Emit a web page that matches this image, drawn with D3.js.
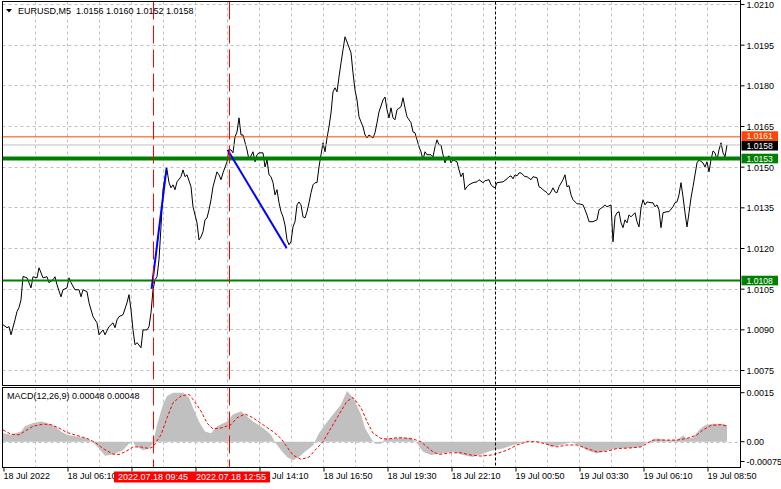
<!DOCTYPE html>
<html><head><meta charset="utf-8">
<script src="https://cdn.jsdelivr.net/npm/d3@7"></script>
<style>
html,body{margin:0;padding:0;background:#fff;}
svg{display:block;font-family:"Liberation Sans",Arial,sans-serif;}
</style></head><body>
<svg id="c" width="781" height="489"></svg>
<script>
// ---------- DATA ----------
const headerText = "EURUSD,M5  1.0156 1.0160 1.0152 1.0158";
const macdHeader = "MACD(12,26,9) 0.00048 0.00048";
// [bar index (5-min bars from 18 Jul 03:30), close]
const closeSeries = [
[0,1.00917],[2,1.00906],[3,1.00910],[4,1.00880],[6,1.00935],[7,1.00966],[8,1.00980],[9,1.01009],[10,1.01095],[12,1.01090],
[14,1.01053],[15,1.01094],[17,1.01090],[18,1.01127],[20,1.01090],[22,1.01094],[23,1.01072],[25,1.01083],[26,1.01094],[27,1.01064],
[29,1.01020],[30,1.01046],[32,1.01053],[33,1.01090],[34,1.01072],[36,1.01046],[38,1.01046],[39,1.01020],[40,1.01046],[42,1.01039],
[43,1.00998],[45,1.00947],[47,1.00924],[48,1.00880],[50,1.00898],[51,1.00880],[53,1.00910],[55,1.00924],[56,1.00906],[57,1.00935],
[58,1.00947],[60,1.00954],[62,1.00998],[63,1.01028],[64,1.00972],[65,1.00898],[66,1.00843],[67,1.00851],[69,1.00832],[70,1.00898],
[72,1.00898],[73,1.00910],[74,1.00961],[75,1.01046],[76,1.01083],[77,1.01094],[78,1.01157],[79,1.01278],[80,1.01415],[81,1.01460],
[82,1.01488],[83,1.01441],[84,1.01422],[85,1.01433],[86,1.01415],[87,1.01444],[89,1.01463],[90,1.01488],[91,1.01463],[92,1.01470],
[94,1.01426],[95,1.01352],[97,1.01293],[98,1.01230],[99,1.01241],[100,1.01260],[101,1.01304],[102,1.01311],[103,1.01341],[104,1.01378],
[105,1.01426],[107,1.01481],[108,1.01470],[109,1.01452],[110,1.01477],[112,1.01518],[113,1.01562],[114,1.01562],[115,1.01551],[116,1.01610],
[117,1.01628],[118,1.01680],[119,1.01617],[120,1.01617],[122,1.01562],[123,1.01525],[125,1.01555],[126,1.01518],[127,1.01544],[128,1.01551],
[130,1.01551],[131,1.01499],[132,1.01525],[133,1.01470],[134,1.01463],[135,1.01441],[136,1.01396],[137,1.01415],[138,1.01367],[139,1.01334],
[140,1.01315],[141,1.01285],[142,1.01230],[143,1.01212],[144,1.01223],[145,1.01278],[146,1.01297],[147,1.01359],[148,1.01370],[149,1.01359],
[150,1.01315],[151,1.01311],[152,1.01334],[153,1.01367],[154,1.01404],[155,1.01433],[156,1.01441],[157,1.01441],[158,1.01499],[159,1.01544],
[160,1.01588],[161,1.01555],[162,1.01606],[163,1.01647],[164,1.01698],[165,1.01776],[166,1.01791],[167,1.01776],[168,1.01831],[169,1.01883],
[170,1.01931],[171,1.01979],[172,1.01960],[174,1.01920],[175,1.01846],[176,1.01783],[177,1.01746],[178,1.01684],[179,1.01665],[180,1.01647],
[181,1.01617],[182,1.01606],[183,1.01617],[185,1.01606],[186,1.01625],[187,1.01662],[188,1.01702],[190,1.01746],[191,1.01757],[192,1.01710],
[193,1.01680],[194,1.01717],[195,1.01680],[196,1.01673],[197,1.01710],[199,1.01721],[200,1.01754],[201,1.01717],[202,1.01684],[204,1.01662],
[205,1.01628],[206,1.01625],[207,1.01599],[208,1.01573],[209,1.01555],[210,1.01525],[211,1.01555],[212,1.01544],[214,1.01544],[215,1.01536],
[216,1.01573],[217,1.01599],[218,1.01580],[219,1.01580],[220,1.01544],[221,1.01514],[222,1.01533],[223,1.01540],[224,1.01514],[225,1.01525],
[227,1.01518],[228,1.01488],[229,1.01463],[230,1.01477],[231,1.01415],[232,1.01426],[233,1.01433],[235,1.01441],[237,1.01444],[238,1.01452],
[240,1.01441],[241,1.01448],[243,1.01452],[244,1.01433],[245,1.01426],[246,1.01422],[247,1.01441],[250,1.01444],[252,1.01455],[253,1.01463],
[254,1.01466],[255,1.01455],[256,1.01470],[257,1.01466],[258,1.01477],[259,1.01477],[261,1.01463],[262,1.01463],[264,1.01452],[265,1.01463],
[267,1.01459],[268,1.01426],[269,1.01422],[270,1.01415],[272,1.01404],[273,1.01396],[274,1.01407],[275,1.01422],[276,1.01407],[277,1.01404],
[278,1.01426],[280,1.01452],[281,1.01470],[282,1.01426],[283,1.01430],[284,1.01396],[285,1.01378],[287,1.01363],[288,1.01363],[290,1.01359],
[291,1.01341],[292,1.01322],[293,1.01297],[295,1.01297],[297,1.01304],[298,1.01341],[300,1.01352],[301,1.01359],[302,1.01352],[304,1.01359],
[305,1.01223],[306,1.01315],[307,1.01330],[308,1.01334],[309,1.01293],[310,1.01275],[311,1.01304],[312,1.01293],[313,1.01322],[314,1.01315],
[316,1.01330],[317,1.01297],[318,1.01278],[319,1.01348],[320,1.01378],[321,1.01359],[322,1.01370],[324,1.01367],[325,1.01367],[326,1.01352],
[327,1.01359],[328,1.01341],[329,1.01275],[330,1.01330],[332,1.01334],[333,1.01334],[335,1.01352],[336,1.01367],[337,1.01370],[338,1.01396],
[339,1.01441],[340,1.01389],[341,1.01330],[342,1.01278],[343,1.01330],[344,1.01385],[345,1.01426],[346,1.01470],[347,1.01514],[348,1.01525],
[350,1.01514],[351,1.01499],[352,1.01518],[353,1.01481],[354,1.01525],[355,1.01558],[356,1.01551],[357,1.01525],[358,1.01562],[359,1.01588],
[360,1.01551],[361,1.01536],[362,1.01580]
];
const histSeries = [
[0,0.00026],[4,0.00021],[9,0.00031],[11,0.00047],[15,0.00057],[19,0.00062],[22,0.00057],[26,0.00047],[29,0.00031],[32,0.00021],
[37,0.00016],[42,0.00010],[45,-0.00002],[48,-0.00021],[51,-0.00043],[55,-0.00039],[60,-0.00026],[63,-0.00006],[65,0.00000],[66,-0.00012],
[70,-0.00026],[73,-0.00021],[75,-0.00005],[77,0.00052],[80,0.00114],[82,0.00140],[85,0.00150],[90,0.00150],[93,0.00135],[95,0.00104],
[98,0.00062],[101,0.00031],[104,0.00026],[107,0.00047],[112,0.00062],[115,0.00083],[119,0.00093],[122,0.00078],[125,0.00062],[130,0.00042],
[134,0.00021],[136,-0.00002],[139,-0.00026],[142,-0.00047],[145,-0.00057],[148,-0.00047],[151,-0.00031],[155,-0.00012],[158,0.00026],[161,0.00052],
[165,0.00083],[169,0.00114],[172,0.00155],[175,0.00135],[179,0.00083],[181,0.00042],[184,0.00010],[186,-0.00006],[189,-0.00006],[191,0.00010],
[195,0.00010],[199,0.00012],[204,0.00012],[207,-0.00005],[210,-0.00031],[214,-0.00041],[219,-0.00036],[225,-0.00031],[230,-0.00041],[235,-0.00047],
[240,-0.00036],[245,-0.00026],[250,-0.00021],[255,-0.00010],[260,-0.00002],[265,0.00000],[270,-0.00002],[274,-0.00016],[279,-0.00010],[284,-0.00002],
[287,-0.00008],[292,-0.00026],[297,-0.00036],[302,-0.00026],[307,-0.00021],[314,-0.00019],[319,-0.00016],[322,0.00000],[327,0.00010],[332,0.00005],
[337,0.00005],[340,0.00019],[342,0.00010],[345,0.00012],[348,0.00036],[351,0.00050],[355,0.00055],[360,0.00055],[362,0.00050]
];
const signalSeries = [
[0,0.00036],[4,0.00023],[8,0.00021],[12,0.00036],[15,0.00047],[20,0.00054],[24,0.00052],[28,0.00042],[32,0.00028],[37,0.00019],
[42,0.00010],[46,-0.00002],[50,-0.00021],[55,-0.00038],[58,-0.00039],[61,-0.00031],[65,-0.00016],[69,-0.00016],[73,-0.00021],[75,-0.00016],
[79,0.00021],[82,0.00073],[85,0.00119],[89,0.00140],[93,0.00145],[95,0.00129],[99,0.00094],[102,0.00057],[105,0.00039],[109,0.00042],
[114,0.00052],[117,0.00073],[121,0.00085],[125,0.00073],[130,0.00052],[135,0.00031],[139,0.00010],[142,-0.00016],[145,-0.00041],[149,-0.00054],
[153,-0.00047],[156,-0.00026],[160,0.00000],[164,0.00042],[168,0.00083],[172,0.00124],[175,0.00135],[179,0.00104],[182,0.00062],[185,0.00026],
[189,0.00010],[192,0.00008],[197,0.00012],[200,0.00012],[205,0.00008],[209,0.00000],[212,-0.00016],[215,-0.00031],[218,-0.00039],[224,-0.00034],
[229,-0.00034],[234,-0.00041],[239,-0.00044],[244,-0.00041],[247,-0.00036],[252,-0.00026],[257,-0.00010],[262,0.00000],[267,0.00000],[272,-0.00008],
[277,-0.00016],[282,-0.00010],[287,-0.00010],[292,-0.00021],[297,-0.00031],[302,-0.00029],[307,-0.00021],[314,-0.00019],[319,-0.00016],[325,0.00005],
[332,0.00005],[337,0.00005],[342,0.00010],[347,0.00021],[350,0.00036],[354,0.00050],[359,0.00052],[362,0.00048]
];
const priceTicks = [1.0210,1.0195,1.0180,1.0165,1.0150,1.0135,1.0120,1.0105,1.0090,1.0075];
const macdTicks = [0.0015,0,-0.00075];
const macdTickLabels = ["0.0015","0.00","-0.00075"];
const timeLabelBars = [0,32,64,96,128,160,192,224,256,288,320,352];
// labels at 08:50 and 11:30 are hidden behind the red time boxes in the original
const timeLabels = ["18 Jul 2022","18 Jul 06:10","","","18 Jul 14:10","18 Jul 16:50",
                    "18 Jul 19:30","18 Jul 22:10","19 Jul 00:50","19 Jul 03:30","19 Jul 06:10","19 Jul 08:50"];
const levelPrices = [1.0161,1.0158,1.0153,1.0108];
const levelLabels = ["1.0161","1.0158","1.0153","1.0108"];
const levelColors = ["#ff4500","#c0c0c0","#008000","#008000"];
const levelBoxColors = ["#ff4500","#000000","#008000","#008000"];
const levelWidths = [1,1,4,2];
const vlineBars = [75,113];
const vlineLabels = ["2022.07.18 09:45","2022.07.18 12:55"];
const daySepBar = 246;
const trendStart = [[74.3,1.01049],[112.3,1.01562]];
const trendEnd = [[81.8,1.01496],[141.8,1.01200]];

// ---------- LAYOUT ----------
const W=781,H=489;
const L=2.5, R=740.5, mainTop=1.5, mainBot=385.5, macdTop=387.5, macdBot=467.5;
const svg=d3.select("#c");
const x=d3.scaleLinear().domain([0,362]).range([3,727]);
const y=d3.scaleLinear().domain([1.0075,1.0210]).range([370,4]);
const ym=d3.scaleLinear().domain([-0.00075,0.0015]).range([466.2,392.7]);
const FS=9;
const grid="#c0c0c0";

svg.append("rect").attr("width",W).attr("height",H).attr("fill","#fff");

// grids
const gridBars=d3.range(16,353,16);
const g=svg.append("g");
gridBars.forEach(b=>{
  const xx=Math.round(x(b))+0.5;
  g.append("line").attr("x1",xx).attr("x2",xx).attr("y1",mainTop).attr("y2",mainBot)
   .attr("stroke",grid).attr("stroke-dasharray","3,3");
  g.append("line").attr("x1",xx).attr("x2",xx).attr("y1",macdTop).attr("y2",macdBot)
   .attr("stroke",grid).attr("stroke-dasharray","3,3");
});
priceTicks.forEach(p=>{
  const yy=Math.round(y(p))+0.5;
  g.append("line").attr("x1",L).attr("x2",R).attr("y1",yy).attr("y2",yy)
   .attr("stroke",grid).attr("stroke-dasharray","3,3");
});
g.append("line").attr("x1",L).attr("x2",R).attr("y1",Math.round(ym(0))+0.5).attr("y2",Math.round(ym(0))+0.5)
 .attr("stroke",grid).attr("stroke-dasharray","3,3");

// MACD histogram + signal
svg.append("path").datum(histSeries)
  .attr("d",d3.area().x(d=>x(d[0])).y0(ym(0)).y1(d=>ym(d[1])))
  .attr("fill","#c0c0c0");
svg.append("path").datum(signalSeries)
  .attr("d",d3.line().x(d=>x(d[0])).y(d=>ym(d[1])))
  .attr("fill","none").attr("stroke","#ff0000").attr("stroke-width",1).attr("stroke-dasharray","3,2");

// price line
svg.append("path").datum(closeSeries)
  .attr("d",d3.line().x(d=>x(d[0])).y(d=>y(d[1])))
  .attr("fill","none").attr("stroke","#000").attr("stroke-width",1);

// day separator
const ds=Math.round(x(daySepBar))+0.5;
[[mainTop,mainBot],[macdTop,macdBot]].forEach(([a,b])=>{
  svg.append("line").attr("x1",ds).attr("x2",ds).attr("y1",a).attr("y2",b)
    .attr("stroke","#000").attr("stroke-dasharray","3,2");
});

// level lines
levelPrices.forEach((p,i)=>{
  const yy=y(p);
  svg.append("line").attr("x1",L).attr("x2",R).attr("y1",yy).attr("y2",yy)
    .attr("stroke",levelColors[i]).attr("stroke-width",levelWidths[i]);
});

// trend lines
trendStart.forEach((s,i)=>{
  const e=trendEnd[i];
  svg.append("line").attr("x1",x(s[0])).attr("y1",y(s[1])).attr("x2",x(e[0])).attr("y2",y(e[1]))
    .attr("stroke","#0000ff").attr("stroke-width",2);
});

// red vertical lines
vlineBars.forEach(b=>{
  const xx=Math.round(x(b))+0.5;
  [[mainTop,mainBot],[macdTop,macdBot]].forEach(([a,bb])=>{
    svg.append("line").attr("x1",xx).attr("x2",xx).attr("y1",a).attr("y2",bb)
      .attr("stroke","#ff0000").attr("stroke-dasharray","18,6");
  });
});

// panel frames
svg.append("rect").attr("x",L).attr("y",mainTop).attr("width",R-L).attr("height",mainBot-mainTop)
  .attr("fill","none").attr("stroke","#000");
svg.append("rect").attr("x",L).attr("y",macdTop).attr("width",R-L).attr("height",macdBot-macdTop)
  .attr("fill","none").attr("stroke","#000");

// price axis
const ax=svg.append("g").attr("transform",`translate(${R},0)`)
  .call(d3.axisRight(y).tickValues(priceTicks).tickSize(4).tickFormat(d3.format(".4f")));
ax.select(".domain").remove();
ax.selectAll("text").attr("x",6).attr("dy","0.4em").attr("font-size",FS)
  .attr("font-family","Liberation Sans, Arial, sans-serif").attr("fill","#000");

// macd axis
const mg=svg.append("g").attr("transform",`translate(${R},0)`);
macdTicks.forEach((v,i)=>{
  const yy=Math.min(ym(v),macdBot-6);
  mg.append("line").attr("x1",0).attr("x2",4).attr("y1",yy).attr("y2",yy).attr("stroke","#000");
  mg.append("text").attr("x",6).attr("y",yy).attr("dy","0.4em").attr("font-size",FS).text(macdTickLabels[i]);
});

// level boxes on axis (stacked so they do not overlap)
const BH=9.6;
const boxC=levelPrices.map(p=>y(p));
for(let k=0;k<3;k++){
  for(let i=1;i<boxC.length;i++){
    const d=BH-(boxC[i]-boxC[i-1]);
    if(d>0){boxC[i-1]-=d/2; boxC[i]+=d/2;}
  }
}
levelPrices.forEach((p,i)=>{
  const yy=boxC[i];
  svg.append("rect").attr("x",R+1).attr("y",yy-BH/2).attr("width",W-R-4).attr("height",BH)
    .attr("fill",levelBoxColors[i]);
  svg.append("text").attr("x",R+6).attr("y",yy).attr("dy","0.36em").attr("font-size",8.6)
    .attr("fill","#fff").text(levelLabels[i]);
});

// time axis
const tx=svg.append("g").attr("transform",`translate(0,${macdBot})`)
  .call(d3.axisBottom(x).tickValues(timeLabelBars).tickSize(4).tickFormat((d,i)=>timeLabels[i]));
tx.select(".domain").remove();
tx.selectAll(".tick line").attr("transform","translate(0.5,0)");
tx.selectAll("text").attr("text-anchor","start").attr("x",0).attr("y",5).attr("dy","0.71em")
  .attr("font-size",FS).attr("font-family","Liberation Sans, Arial, sans-serif").attr("fill","#000");

// red time labels (second one pushed right of the first, as the terminal does)
let prevRight=-Infinity;
vlineBars.forEach((b,i)=>{
  const bw=78;
  let left=Math.max(x(b)-bw/2, prevRight);
  prevRight=left+bw;
  svg.append("rect").attr("x",left).attr("y",471.5).attr("width",bw).attr("height",11).attr("fill","#ff0000");
  svg.append("text").attr("x",left+bw/2).attr("y",477).attr("dy","0.35em").attr("text-anchor","middle")
    .attr("font-size",FS).attr("fill","#fff").text(vlineLabels[i]);
});

// right axis line
svg.append("line").attr("x1",R).attr("x2",R).attr("y1",0).attr("y2",macdBot).attr("stroke","#000");

// headers
svg.append("path").attr("d","M6,9 L12,9 L9,12.5 Z").attr("fill","#000");
svg.append("text").attr("x",18).attr("y",14).attr("font-size",FS).style("white-space","pre").text(headerText);
svg.append("text").attr("x",7).attr("y",399).attr("font-size",FS).style("white-space","pre").text(macdHeader);
</script>
</body></html>
